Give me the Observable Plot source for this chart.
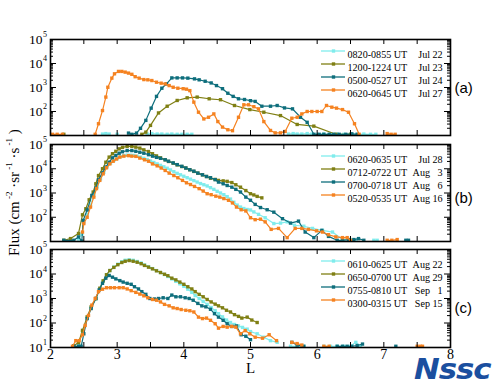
<!DOCTYPE html>
<html>
<head>
<meta charset="utf-8">
<script src="https://cdn.jsdelivr.net/npm/d3@7"></script>
<script src="https://cdn.jsdelivr.net/npm/@observablehq/plot@0.6"></script>
<style>
  html, body { margin: 0; padding: 0; background: #fff; }
  #wrap { position: relative; width: 500px; height: 386px; background: #fff; }
  .pnl { position: absolute; left: 0; z-index: 1; }
  #logo { position: absolute; left: 414px; top: 353px; z-index: 5; font-family: "DejaVu Sans", sans-serif; font-weight: bold; font-style: italic; font-size: 28px; color: #1b4f9f; letter-spacing: -1px; transform: scaleX(1.1); transform-origin: left center; white-space: nowrap; }
</style>
</head>
<body>
<div id="wrap"></div>
<script>
// ---------------- DATA (L shell, log10 flux; null = gap) ----------------
const xTicks = [2, 2.5, 3, 3.5, 4, 4.5, 5, 5.5, 6, 6.5, 7, 7.5, 8];
const xLabels = [2, 3, 4, 5, 6, 7, 8];
const yExpsAB = [2, 3, 4, 5];
const yExpsC = [1, 2, 3, 4, 5];

const colors = ["#80ecec", "#7f7f13", "#0e6e7c", "#f58220"];

// Panel (a)
const aCyanL = [2.78, 2.83, 2.88, 2.94, 3.0, 3.2, 3.45, 3.52, 3.6, 3.67, 3.75, 3.82, 3.9, 3.97, 4.05, 4.12, 5.2, 5.57, 5.64, 5.7, 5.77, 5.85, 5.92, 6.0, 6.1, 6.2, 6.3, 6.4, 6.5, 6.6, 6.7, 6.8, 6.88];
const aCyanF = [1.06, 1.08, 1.06, null, 1.05, null, 1.06, 1.08, 1.06, 1.06, 1.05, 1.06, 1.05, 1.05, 1.05, 1.05, null, 1.06, 1.08, 1.06, 1.06, 1.08, 1.06, 1.05, 1.06, 1.05, 1.06, 1.05, 1.06, 1.05, 1.06, 1.05, 1.05];
const aOliveL = [2.2, 2.5, 3.37, 3.43, 3.5, 3.62, 3.75, 3.9, 4.05, 4.2, 4.38, 4.55, 4.76, 4.99, 5.2, 5.45, 5.7, 5.95, 6.28, 6.5];
const aOliveF = [1.05, null, 1.05, 1.14, 1.42, 1.94, 2.22, 2.46, 2.57, 2.6, 2.53, 2.49, 2.25, 2.08, 1.97, 1.83, 1.46, 1.39, 1.05, 1.05];
const aTealL = [3.17, 3.22, 3.29, 3.35, 3.43, 3.51, 3.59, 3.67, 3.74, 3.82, 3.9, 3.98, 4.06, 4.16, 4.23, 4.32, 4.41, 4.49, 4.58, 4.66, 4.74, 4.82, 4.91, 5.0, 5.07, 5.17, 5.3, 5.4, 5.51, 5.63, 5.75, 5.85, 5.95, 6.03, 6.1, 6.18, 6.25, 6.33, 6.43, 6.52, 6.6];
const aTealF = [1.1, 1.05, 1.1, 1.3, 1.63, 2.14, 2.63, 2.97, 3.15, 3.4, 3.4, 3.4, 3.39, 3.36, 3.32, 3.26, 3.19, 3.08, 2.95, 2.76, 2.63, 2.53, 2.5, 2.45, 2.42, 2.22, 2.22, 2.25, 2.15, 2.11, 1.76, 1.55, 1.05, 1.05, 1.05, 1.05, 1.05, 1.05, 1.05, 1.07, 1.05];
const aOrangeL = [2.03, 2.1, 2.18, 2.4, 2.67, 2.72, 2.78, 2.83, 2.86, 2.92, 2.96, 3.02, 3.07, 3.12, 3.17, 3.22, 3.27, 3.33, 3.4, 3.46, 3.52, 3.59, 3.66, 3.72, 3.78, 3.84, 3.91, 3.99, 4.04, 4.09, 4.15, 4.22, 4.3, 4.37, 4.45, 4.51, 4.58, 4.66, 4.73, 4.82, 4.9, 4.97, 5.05, 5.12, 5.2, 5.3, 5.37, 5.45, 5.52, 5.62, 5.7, 5.77, 5.85, 5.92, 6.0, 6.07, 6.14, 6.22, 6.29, 6.38, 6.47, 6.56, 6.63, 6.9, 7.05, 7.11, 7.17];
const aOrangeF = [1.05, 1.05, 1.05, null, 1.05, 1.49, 2.04, 2.6, 3.01, 3.39, 3.57, 3.67, 3.67, 3.64, 3.6, 3.55, 3.45, 3.39, 3.33, 3.32, 3.29, 3.22, 3.18, 3.15, 3.08, 3.01, 2.97, 2.95, 2.93, 2.87, 2.39, 1.97, 1.69, 1.76, 1.9, 1.58, 1.35, 1.24, 1.2, 1.76, 2.28, 2.28, 2.2, 2.11, 1.58, 1.21, 1.11, 1.11, 1.17, 1.72, 1.76, 1.9, 2.0, 2.0, 2.0, 2.0, 2.25, 2.18, 2.14, 2.08, 1.97, 1.49, 1.05, null, 1.08, 1.05, 1.05];

// Panel (b)
const bCyanL = [2.42, 2.47, 2.5, 2.55, 2.6, 2.65, 2.7, 2.75, 2.8, 2.85, 2.9, 2.95, 3.0, 3.05, 3.1, 3.15, 3.2, 3.25, 3.3, 3.35, 3.4, 3.45, 3.5, 3.55, 3.6, 3.65, 3.7, 3.75, 3.8, 3.85, 3.9, 3.95, 4.0, 4.05, 4.1, 4.15, 4.2, 4.25, 4.3, 4.35, 4.4, 4.45, 4.5, 4.55, 4.6, 4.65, 4.7, 4.75, 4.8, 4.85, 4.9, 4.95, 5.0, 5.05, 5.12, 5.22, 5.35, 5.45, 5.55, 5.66, 5.8, 5.93, 6.08, 6.23, 6.38, 6.5, 6.58, 6.7, 6.85, 6.9];
const bCyanF = [1.1, 1.3, 1.8, 2.1, 2.5, 2.9, 3.25, 3.58, 3.85, 4.08, 4.23, 4.34, 4.42, 4.5, 4.54, 4.56, 4.56, 4.55, 4.52, 4.48, 4.43, 4.38, 4.32, 4.26, 4.2, 4.14, 4.08, 4.02, 3.95, 3.88, 3.81, 3.75, 3.69, 3.63, 3.57, 3.51, 3.45, 3.39, 3.34, 3.29, 3.22, 3.15, 3.07, 3.0, 2.93, 2.85, 2.75, 2.62, 2.5, 2.42, 2.36, 2.32, 2.3, 2.22, 2.12, 1.98, 1.74, 1.76, 1.81, 1.67, 1.63, 1.54, 1.46, 1.39, 1.08, 1.08, 1.05, null, 1.05, 1.05];
const bOliveL = [2.2, 2.3, 2.42, 2.48, 2.53, 2.58, 2.64, 2.68, 2.72, 2.78, 2.83, 2.88, 2.93, 2.98, 3.03, 3.08, 3.15, 3.22, 3.28, 3.34, 3.4, 3.47, 3.53, 3.59, 3.65, 3.72, 3.77, 3.84, 3.9, 3.97, 4.03, 4.09, 4.15, 4.21, 4.28, 4.34, 4.4, 4.47, 4.52, 4.59, 4.65, 4.72, 4.78, 4.85, 4.93, 5.0, 5.05, 5.1, 5.17];
const bOliveF = [1.05, 1.12, 1.33, 2.1, 2.35, 2.72, 3.04, 3.38, 3.72, 4.0, 4.27, 4.48, 4.62, 4.72, 4.82, 4.88, 4.92, 4.92, 4.89, 4.85, 4.78, 4.71, 4.62, 4.53, 4.45, 4.37, 4.3, 4.23, 4.16, 4.09, 4.03, 3.96, 3.89, 3.82, 3.75, 3.68, 3.61, 3.56, 3.52, 3.5, 3.48, 3.43, 3.34, 3.24, 3.1, 2.97, 2.92, 2.86, 2.8];
const bTealL = [2.2, 2.35, 2.42, 2.47, 2.49, 2.55, 2.62, 2.68, 2.72, 2.78, 2.83, 2.88, 2.93, 2.98, 3.03, 3.08, 3.15, 3.22, 3.28, 3.34, 3.4, 3.47, 3.53, 3.59, 3.65, 3.72, 3.77, 3.84, 3.9, 3.97, 4.03, 4.09, 4.15, 4.21, 4.28, 4.34, 4.4, 4.47, 4.52, 4.59, 4.65, 4.72, 4.78, 4.85, 4.93, 5.0, 5.07, 5.15, 5.25, 5.35, 5.48, 5.6, 5.72, 5.82, 5.95, 6.07, 6.17, 6.3, 6.38, 6.47, 6.55, 6.62, 6.7, 7.0, 7.33, 7.37];
const bTealF = [1.05, 1.05, 1.19, 1.02, 1.87, 2.3, 2.9, 3.2, 3.55, 3.83, 4.07, 4.27, 4.45, 4.55, 4.64, 4.7, 4.75, 4.75, 4.72, 4.68, 4.64, 4.58, 4.52, 4.47, 4.43, 4.37, 4.31, 4.24, 4.17, 4.1, 4.03, 3.96, 3.9, 3.82, 3.75, 3.68, 3.63, 3.55, 3.45, 3.38, 3.31, 3.24, 3.15, 3.04, 2.83, 2.7, 2.53, 2.4, 2.31, 2.21, 1.94, 1.76, 1.84, 1.39, 1.16, 1.46, 1.21, 1.05, 1.05, 1.08, 1.08, 1.12, 1.05, null, 1.05, 1.05];
const bOrangeL = [2.48, 2.5, 2.55, 2.6, 2.65, 2.69, 2.74, 2.79, 2.84, 2.89, 2.94, 2.99, 3.04, 3.1, 3.17, 3.22, 3.28, 3.34, 3.41, 3.47, 3.53, 3.6, 3.66, 3.72, 3.78, 3.85, 3.91, 3.98, 4.04, 4.1, 4.16, 4.23, 4.29, 4.35, 4.41, 4.48, 4.54, 4.6, 4.67, 4.73, 4.79, 4.86, 4.93, 5.0, 5.07, 5.15, 5.22, 5.31, 5.42, 5.55, 5.67, 5.77, 5.87, 5.99, 6.08, 6.17, 6.28, 6.38, 6.45, 6.5, 6.8, 7.05, 7.12, 7.2];
const bOrangeF = [1.39, 1.74, 2.0, 2.42, 2.83, 3.18, 3.52, 3.79, 4.04, 4.2, 4.31, 4.4, 4.48, 4.52, 4.54, 4.52, 4.51, 4.44, 4.37, 4.31, 4.2, 4.12, 4.03, 3.93, 3.82, 3.72, 3.63, 3.52, 3.42, 3.35, 3.27, 3.18, 3.08, 2.97, 2.93, 2.87, 2.83, 2.77, 2.7, 2.59, 2.42, 2.31, 2.26, 1.98, 1.9, 1.92, 1.81, 1.5, 1.54, 1.16, 1.54, 1.54, 1.5, 1.44, 1.39, 1.28, 1.19, 1.16, 1.16, 1.05, null, 1.05, 1.05, 1.08];

// Panel (c)
const cCyanL = [2.42, 2.48, 2.55, 2.61, 2.68, 2.74, 2.79, 2.84, 2.89, 2.95, 3.01, 3.07, 3.12, 3.18, 3.24, 3.3, 3.36, 3.41, 3.47, 3.53, 3.59, 3.65, 3.71, 3.76, 3.82, 3.88, 3.94, 4.0, 4.06, 4.12, 4.17, 4.23, 4.29, 4.35, 4.41, 4.47, 4.52, 4.58, 4.64, 4.7, 4.76, 4.82, 4.88, 4.95, 5.0, 5.1, 5.2, 5.3, 5.4, 5.5, 5.6, 5.7, 5.8, 5.95, 6.1, 6.2, 6.3, 6.4, 6.5, 6.58, 6.65];
const cCyanF = [1.15, 1.65, 2.2, 2.62, 2.98, 3.4, 3.7, 3.96, 4.14, 4.28, 4.4, 4.5, 4.56, 4.58, 4.56, 4.51, 4.45, 4.37, 4.3, 4.22, 4.14, 4.06, 3.98, 3.9, 3.8, 3.7, 3.6, 3.5, 3.38, 3.25, 3.12, 3.0, 2.88, 2.76, 2.63, 2.5, 2.38, 2.25, 2.12, 2.02, 1.94, 1.88, 1.82, 1.75, 1.65, 1.56, 1.42, 1.28, 1.21, null, 1.05, 1.05, 1.05, null, 1.05, 1.05, 1.05, 1.05, 1.05, 1.21, 1.05];
const cOliveL = [2.35, 2.42, 2.48, 2.55, 2.61, 2.68, 2.74, 2.79, 2.84, 2.89, 2.95, 3.01, 3.07, 3.12, 3.18, 3.24, 3.3, 3.36, 3.41, 3.47, 3.53, 3.59, 3.65, 3.71, 3.76, 3.82, 3.88, 3.94, 4.0, 4.06, 4.12, 4.17, 4.23, 4.29, 4.35, 4.41, 4.47, 4.52, 4.58, 4.64, 4.7, 4.76, 4.82, 4.87, 4.95, 5.02, 5.1];
const cOliveF = [1.07, 1.2, 1.7, 2.25, 2.66, 3.0, 3.42, 3.72, 3.97, 4.14, 4.27, 4.38, 4.47, 4.52, 4.55, 4.52, 4.48, 4.42, 4.35, 4.28, 4.21, 4.13, 4.06, 3.99, 3.93, 3.83, 3.76, 3.67, 3.58, 3.48, 3.39, 3.28, 3.17, 3.07, 2.96, 2.86, 2.77, 2.7, 2.62, 2.52, 2.45, 2.34, 2.27, 2.2, 2.24, 2.12, 2.02];
const cTealL = [2.35, 2.42, 2.46, 2.5, 2.55, 2.61, 2.68, 2.73, 2.78, 2.83, 2.88, 2.93, 2.98, 3.04, 3.09, 3.15, 3.21, 3.26, 3.32, 3.37, 3.43, 3.49, 3.56, 3.62, 3.69, 3.76, 3.82, 3.88, 3.95, 4.02, 4.08, 4.14, 4.21, 4.27, 4.33, 4.4, 4.46, 4.52, 4.59, 4.65, 4.72, 4.79, 4.86, 4.93, 5.0, 5.3, 5.62, 5.7, 5.8, 6.0, 6.3, 6.38, 6.45, 6.52, 6.6, 6.68, 7.0, 7.18];
const cTealF = [1.05, 1.05, 1.05, 1.56, 2.18, 2.59, 3.0, 3.35, 3.62, 3.83, 3.94, 3.87, 3.8, 3.73, 3.67, 3.62, 3.58, 3.48, 3.39, 3.28, 3.17, 3.0, 2.98, 3.0, 3.03, 3.0, 3.14, 3.07, 3.07, 3.03, 3.0, 2.93, 2.8, 2.7, 2.66, 2.56, 2.38, 2.24, 2.11, 1.97, 1.86, 1.88, 1.52, 1.46, 1.32, null, 1.21, 1.1, 1.05, null, 1.05, 1.05, 1.05, 1.05, 1.08, 1.14, null, 1.05];
const cOrangeL = [2.33, 2.38, 2.43, 2.48, 2.52, 2.57, 2.62, 2.67, 2.72, 2.78, 2.84, 2.9, 2.96, 3.03, 3.09, 3.15, 3.21, 3.28, 3.34, 3.4, 3.46, 3.53, 3.59, 3.65, 3.71, 3.78, 3.84, 3.9, 3.96, 4.03, 4.09, 4.15, 4.22, 4.28, 4.34, 4.4, 4.47, 4.52, 4.59, 4.65, 4.72, 4.78, 4.85, 4.92, 4.99, 5.07, 5.18, 5.28, 5.39, 5.5, 5.62, 5.7, 5.77, 5.95, 6.1, 6.18, 7.0, 7.5, 7.55, 7.58];
const cOrangeF = [1.05, 1.28, 1.28, 1.52, 1.9, 2.31, 2.73, 3.0, 3.28, 3.38, 3.44, 3.44, 3.44, 3.44, 3.44, 3.39, 3.32, 3.25, 3.18, 3.11, 3.03, 2.96, 2.93, 2.86, 2.76, 2.7, 2.62, 2.59, 2.55, 2.52, 2.5, 2.45, 2.24, 2.18, 2.2, 2.11, 1.97, 1.79, 1.86, 1.83, 1.86, 1.83, 1.56, 1.69, 1.56, 1.42, 1.38, 1.52, 1.28, null, 1.21, 1.16, 1.1, null, 1.05, 1.05, null, 1.05, 1.05, 1.05];

const legendA = [["0820-0855 UT", "Jul", "22"], ["1200-1224 UT", "Jul", "23"], ["0500-0527 UT", "Jul", "24"], ["0620-0645 UT", "Jul", "27"]];
const legendB = [["0620-0635 UT", "Jul", "28"], ["0712-0722 UT", "Aug", "3"], ["0700-0718 UT", "Aug", "6"], ["0520-0535 UT", "Aug", "16"]];
const legendC = [["0610-0625 UT", "Aug", "22"], ["0650-0700 UT", "Aug", "29"], ["0755-0810 UT", "Sep", "1"], ["0300-0315 UT", "Sep", "15"]];

// ---------------- BUILD ----------------
const rows = (L, F) => L.map((x, i) => ({x, f: F[i]}));
const yv = d => (d.f == null ? NaN : 10 ** d.f);
const majorY = [1, 2, 3, 4, 5].map(e => 10 ** e);
const minorY = [];
for (let e = 1; e < 5; e++) for (let k = 2; k <= 9; k++) minorY.push(k * 10 ** e);

const SERIF = "Liberation Serif, Times New Roman, serif";
const W = 500, ML = 50, MR = 50, FW = W - ML - MR;
const wrap = document.getElementById("wrap");

function panel({series, legend, label, labelDy, top, mTop, mBottom, frameH, yExps, showX}) {
  const height = mTop + frameH + mBottom;
  const marks = [];
  series.forEach(([L, F], i) => {
    const r = rows(L, F);
    marks.push(Plot.line(r, {x: "x", y: yv, stroke: colors[i], strokeWidth: 1.2, clip: true}));
    marks.push(Plot.dot(r.filter(d => d.f != null), {x: "x", y: yv, symbol: "square", r: 1.9, fill: colors[i], stroke: "none", clip: true}));
  });
  marks.push(Plot.ruleX(xTicks, {x: d => d, insetBottom: frameH - 5, stroke: "black"}));
  marks.push(Plot.ruleX(xTicks, {x: d => d, insetTop: frameH - 5, stroke: "black"}));
  marks.push(Plot.ruleY(majorY, {y: d => d, insetRight: FW - 6, stroke: "black"}));
  marks.push(Plot.ruleY(majorY, {y: d => d, insetLeft: FW - 6, stroke: "black"}));
  marks.push(Plot.ruleY(minorY, {y: d => d, insetRight: FW - 3, stroke: "black"}));
  marks.push(Plot.ruleY(minorY, {y: d => d, insetLeft: FW - 3, stroke: "black"}));
  marks.push(Plot.frame({stroke: "black", strokeWidth: 1.6}));
  marks.push(Plot.text(yExps, {y: d => 10 ** d, text: () => "10", frameAnchor: "left", textAnchor: "end", dx: -8, fontSize: 13.5}));
  marks.push(Plot.text(yExps, {y: d => 10 ** d, text: d => String(d), frameAnchor: "left", textAnchor: "start", dx: -7.5, dy: -5, fontSize: 8}));
  if (showX) {
    marks.push(Plot.text(xLabels, {x: d => d, text: d => String(d), frameAnchor: "bottom", dy: 11, fontSize: 14}));
    marks.push(Plot.text(["L"], {text: d => d, frameAnchor: "bottom", dy: 25.5, fontSize: 15}));
  }
  legend.forEach(([t, m, day], i) => {
    const off = 11.5 + 13 * i;
    marks.push(Plot.ruleY([0], {y: null, dy: off - frameH / 2, insetLeft: 271, insetRight: 105, stroke: colors[i], strokeWidth: 1.3}));
    marks.push(Plot.dot([0], {frameAnchor: "top-right", dx: -117, dy: off, symbol: "square", r: 1.9, fill: colors[i], stroke: "none"}));
    marks.push(Plot.text([t], {text: d => d, frameAnchor: "top-right", dx: -103, dy: off, textAnchor: "start", fontSize: 10.1}));
    marks.push(Plot.text([m], {text: d => d, frameAnchor: "top-right", dx: -20.5, dy: off, textAnchor: "end", fontSize: 10.1}));
    marks.push(Plot.text([day], {text: d => d, frameAnchor: "top-right", dx: -8, dy: off, textAnchor: "end", fontSize: 10.1}));
  });
  marks.push(Plot.text([label], {text: d => d, frameAnchor: "top-right", dx: 4, dy: labelDy, textAnchor: "start", fontSize: 15, fontFamily: "Liberation Sans, Arial, sans-serif"}));

  const svg = Plot.plot({
    width: W, height, marginLeft: ML, marginRight: MR, marginTop: mTop, marginBottom: mBottom,
    x: {domain: [2, 8], axis: null},
    y: {type: "log", domain: [10, 1e5], axis: null},
    style: {fontFamily: SERIF, background: "transparent", overflow: "visible", color: "black"},
    marks
  });
  const div = document.createElement("div");
  div.className = "pnl";
  div.style.top = top + "px";
  div.appendChild(svg);
  wrap.appendChild(div);
  return svg;
}

panel({series: [[aCyanL, aCyanF], [aOliveL, aOliveF], [aTealL, aTealF], [aOrangeL, aOrangeF]], legend: legendA, label: "(a)", labelDy: 43, top: 0, mTop: 39, mBottom: 5, frameH: 96, yExps: yExpsAB, showX: false});
const svgB = panel({series: [[bCyanL, bCyanF], [bOliveL, bOliveF], [bTealL, bTealF], [bOrangeL, bOrangeF]], legend: legendB, label: "(b)", labelDy: 48, top: 140, mTop: 4, mBottom: 4, frameH: 97, yExps: yExpsAB, showX: false});
panel({series: [[cCyanL, cCyanF], [cOliveL, cOliveF], [cTealL, cTealF], [cOrangeL, cOrangeF]], legend: legendC, label: "(c)", labelDy: 53, top: 245, mTop: 4, mBottom: 39, frameH: 98, yExps: yExpsC, showX: true});

const t = d3.select(svgB).append("text")
  .attr("transform", `translate(16, ${4 + 97 / 2}) rotate(-90)`)
  .attr("text-anchor", "middle").attr("dominant-baseline", "middle")
  .attr("font-family", SERIF).attr("font-size", 15).attr("fill", "black");
t.append("tspan").text("Flux (cm");
t.append("tspan").attr("dy", -6).attr("font-size", 9).text(" -2");
t.append("tspan").attr("dy", 6).text(" ·sr");
t.append("tspan").attr("dy", -6).attr("font-size", 9).text(" -1");
t.append("tspan").attr("dy", 6).text(" ·s");
t.append("tspan").attr("dy", -6).attr("font-size", 9).text(" -1");
t.append("tspan").attr("dy", 6).text(" )");

const logo = document.createElement("div");
logo.id = "logo";
logo.textContent = "Nssc";
wrap.appendChild(logo);
</script>
</body>
</html>
